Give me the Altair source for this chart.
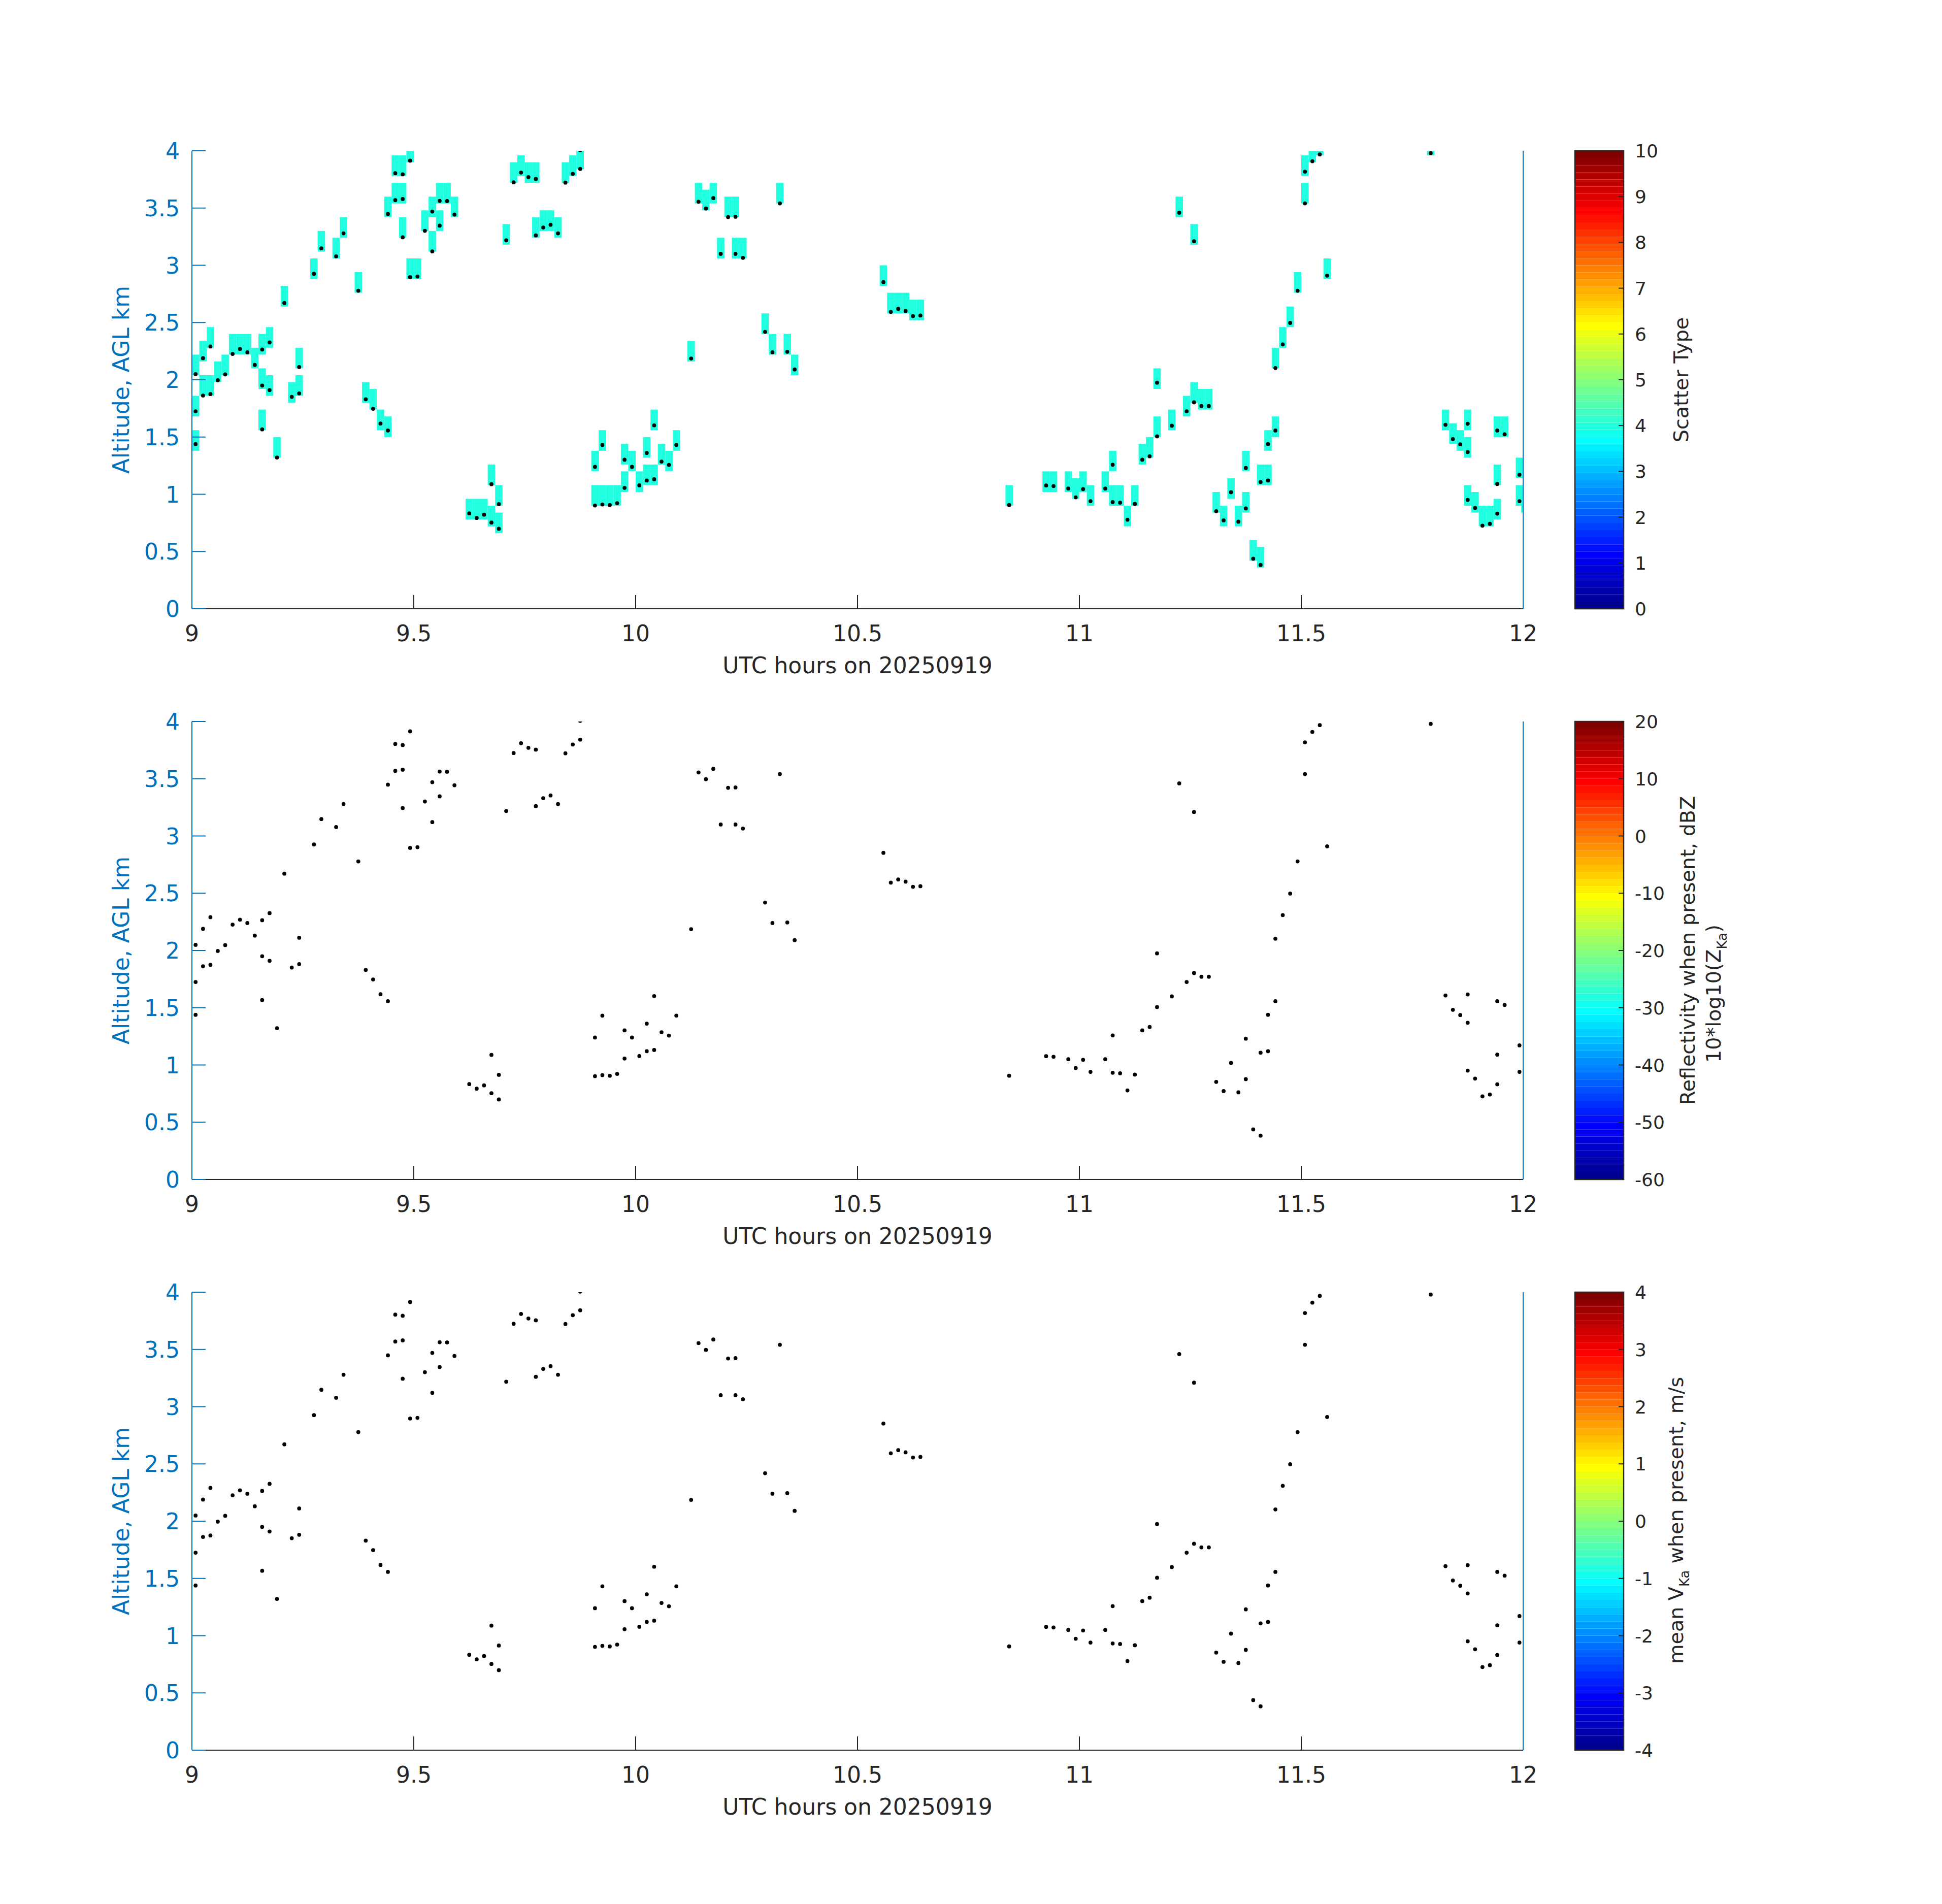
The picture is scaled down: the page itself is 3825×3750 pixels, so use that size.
import math
import altair as alt
import pandas as pd

# ---------------- data ----------------
hours = [
    9.0083, 9.0083, 9.0083, 9.0250, 9.0250, 9.0417, 9.0417, 9.0583, 9.0750, 9.0917,
    9.1083, 9.1250, 9.1417, 9.1583, 9.1583, 9.1583, 9.1750, 9.1750, 9.1917, 9.2083,
    9.2250, 9.2417, 9.2417, 9.2750, 9.2917, 9.3250, 9.3417, 9.3750, 9.3917, 9.4083,
    9.4250, 9.4417, 9.4417, 9.4583, 9.4583, 9.4750, 9.4750, 9.4750, 9.4917, 9.4917,
    9.5083, 9.5250, 9.5417, 9.5417, 9.5583, 9.5583, 9.5750, 9.5917, 9.6250, 9.6417,
    9.6583, 9.6750, 9.6750, 9.6917, 9.6917, 9.7083, 9.7250, 9.7417, 9.7583, 9.7750,
    9.7750, 9.7917, 9.8083, 9.8250, 9.8417, 9.8583, 9.8750, 9.8750, 9.9083, 9.9083,
    9.9250, 9.9250, 9.9417, 9.9583, 9.9750, 9.9750, 9.9917, 10.0083, 10.0250, 10.0250,
    10.0417, 10.0417, 10.0583, 10.0750, 10.0917, 10.1250, 10.1417, 10.1583, 10.1750, 10.1917,
    10.2083, 10.2250, 10.2250, 10.2417, 10.2917, 10.3083, 10.3250, 10.3417, 10.3583, 10.5583,
    10.5750, 10.5917, 10.6083, 10.6250, 10.6417, 10.8417, 10.9250, 10.9417, 10.9750, 10.9917,
    11.0083, 11.0250, 11.0583, 11.0750, 11.0750, 11.0917, 11.1083, 11.1250, 11.1417, 11.1583,
    11.1750, 11.1750, 11.2083, 11.2250, 11.2417, 11.2583, 11.2583, 11.2750, 11.2917, 11.3083,
    11.3250, 11.3417, 11.3583, 11.3750, 11.3750, 11.3917, 11.4083, 11.4083, 11.4250, 11.4250,
    11.4417, 11.4417, 11.4583, 11.4750, 11.4917, 11.5083, 11.5083, 11.5250, 11.5417, 11.5583,
    11.7917, 11.8250, 11.8417, 11.8583, 11.8750, 11.8750, 11.8750, 11.8917, 11.9083, 11.9250,
    11.9417, 11.9417, 11.9417, 11.9583, 11.9917, 11.9917, 12.0040,
]
altitude_km = [
    2.049, 1.725, 1.438, 2.189, 1.862, 2.291, 1.875, 1.996, 2.047, 2.226,
    2.269, 2.240, 2.130, 2.264, 1.950, 1.567, 2.326, 1.910, 1.321, 2.671,
    1.851, 1.881, 2.111, 2.926, 3.148, 3.078, 3.279, 2.778, 1.830, 1.747,
    1.618, 1.557, 3.448, 3.569, 3.804, 3.579, 3.794, 3.244, 3.914, 2.896,
    2.902, 3.301, 3.470, 3.121, 3.563, 3.346, 3.561, 3.443, 0.833, 0.793,
    0.822, 1.088, 0.753, 0.914, 0.699, 3.218, 3.724, 3.810, 3.770, 3.754,
    3.261, 3.330, 3.354, 3.279, 3.722, 3.799, 3.842, 4.005, 0.902, 1.240,
    0.911, 1.431, 0.906, 0.922, 1.056, 1.302, 1.240, 1.078, 1.120, 1.361,
    1.131, 1.602, 1.286, 1.257, 1.431, 2.186, 3.555, 3.496, 3.587, 3.100,
    3.421, 3.424, 3.100, 3.065, 2.419, 2.240, 3.541, 2.245, 2.090, 2.853,
    2.593, 2.620, 2.601, 2.556, 2.561, 0.906, 1.077, 1.072, 1.050, 0.973,
    1.045, 0.940, 1.050, 1.258, 0.932, 0.927, 0.778, 0.916, 1.302, 1.332,
    1.506, 1.975, 1.599, 3.459, 1.725, 1.803, 3.210, 1.771, 1.771, 0.852,
    0.772, 1.018, 0.761, 0.876, 1.230, 0.437, 0.383, 1.107, 1.120, 1.438,
    1.557, 2.103, 2.309, 2.497, 2.778, 3.541, 3.818, 3.909, 3.968, 2.910,
    3.979, 1.607, 1.482, 1.436, 1.369, 1.616, 0.951, 0.881, 0.726, 0.742,
    0.831, 1.090, 1.557, 1.524, 1.171, 0.940, 0.892,
]
SCATTER_TYPE = 4          # every cell in the top panel
TIME_STEP_H = 1 / 60      # one-minute columns
GATE_KM = 0.06            # range gate
CELL_GATES = 3            # each cell spans three gates

x_tick_values = [9, 9.5, 10, 10.5, 11, 11.5, 12]
x_tick_labels = ["9", "9.5", "10", "10.5", "11", "11.5", "12"]
y_tick_values = [0, 0.5, 1, 1.5, 2, 2.5, 3, 3.5, 4]
y_tick_labels = ["0", "0.5", "1", "1.5", "2", "2.5", "3", "3.5", "4"]
cb1_ticks = [0, 1, 2, 3, 4, 5, 6, 7, 8, 9, 10]
cb2_ticks = [-60, -50, -40, -30, -20, -10, 0, 10, 20]
cb3_ticks = [-4, -3, -2, -1, 0, 1, 2, 3, 4]
x_title = "UTC hours on 20250919"
y_title = "Altitude, AGL km"

# ---------------- styling ----------------
FONT = "DejaVu Sans"
BLUE = "#0072BD"
DARK = "#262626"
W, H = 2622, 902
CBW = 96
TICKFS = 44
LBL = 39.6
SUB = 26


def jet_colors(m=64):
    n = math.ceil(m / 4)
    u = [i / n for i in range(1, n + 1)] + [1.0] * (n - 1) + [i / n for i in range(n, 0, -1)]
    off = math.ceil(n / 2) - (1 if m % 4 == 1 else 0)

    def val(j):
        return u[j - 1] if 1 <= j <= len(u) else 0.0
    cols = []
    for i in range(1, m + 1):
        r, g, b = val(i - off - n), val(i - off), val(i - off + n)
        cols.append("#%02x%02x%02x" % (round(r * 255), round(g * 255), round(b * 255)))
    return cols


JET = jet_colors(64)

# DejaVu Sans advance widths (em) for layout of split labels
ADV = {' ': .318, '(': .390, ')': .390, '*': .500, ',': .318, '/': .337, '0': .636, '1': .636,
       'K': .656, 'V': .684, 'Z': .685, 'a': .613, 'e': .615, 'g': .635, 'h': .634, 'l': .278,
       'm': .974, 'n': .634, 'o': .612, 'p': .635, 'r': .411, 's': .521, 't': .392, 'w': .818}


def tw(s, size):
    return sum(ADV.get(c, 0.6) for c in s) * size


pts = pd.DataFrame({"t": hours, "z": altitude_km})
cells = pts.copy()
cells["t0"] = cells["t"] - TIME_STEP_H / 2
cells["t1"] = cells["t"] + TIME_STEP_H / 2
cells["z0"] = (cells["z"] / GATE_KM).apply(math.floor) * GATE_KM
cells["z1"] = cells["z0"] + CELL_GATES * GATE_KM
cells["stype"] = SCATTER_TYPE

xsc = alt.Scale(domain=[9, 12], nice=False, zero=False)
ysc = alt.Scale(domain=[0, 4], nice=False, zero=False)

xticks_df = pd.DataFrame({"v": x_tick_values, "s": x_tick_labels})
yticks_df = pd.DataFrame({"v": y_tick_values, "s": y_tick_labels})


def one(s):
    return pd.DataFrame({"s": [s]})


def main_panel(show_cells):
    layers = []
    if show_cells:
        layers.append(
            alt.Chart(cells).mark_rect(clip=True, strokeWidth=0).encode(
                x=alt.X("t0:Q", scale=xsc, axis=None), x2="t1:Q",
                y=alt.Y("z0:Q", scale=ysc, axis=None), y2="z1:Q",
                color=alt.Color("stype:Q", legend=None,
                                scale=alt.Scale(type="quantize", domain=[0, 10], range=JET)))
        )
    # bottom axis line, ticks (inward), labels, title
    layers += [
        alt.Chart(one("b")).mark_rule(color=DARK, strokeWidth=2).encode(
            x=alt.value(0), x2=alt.value(W), y=alt.value(H)),
        alt.Chart(xticks_df).mark_rule(color=DARK, strokeWidth=2).encode(
            x=alt.X("v:Q", scale=xsc, axis=None), y=alt.value(H), y2=alt.value(H - 27)),
        alt.Chart(xticks_df).mark_text(font=FONT, fontSize=TICKFS, color=DARK, align="center",
                                       baseline="alphabetic").encode(
            x=alt.X("v:Q", scale=xsc, axis=None), y=alt.value(H + 64), text="s:N"),
        alt.Chart(one(x_title)).mark_text(font=FONT, fontSize=44, color=DARK, align="center",
                                          baseline="alphabetic").encode(
            x=alt.value(W / 2), y=alt.value(H + 127), text="s:N"),
    ]
    # right blue line
    layers.append(
        alt.Chart(one("r")).mark_rule(color=BLUE, strokeWidth=2).encode(
            x=alt.value(W), y=alt.value(0), y2=alt.value(H))
    )
    # left axis line, ticks, labels, title
    layers += [
        alt.Chart(one("l")).mark_rule(color=BLUE, strokeWidth=2).encode(
            x=alt.value(0), y=alt.value(0), y2=alt.value(H)),
        alt.Chart(yticks_df).mark_rule(color=BLUE, strokeWidth=2).encode(
            y=alt.Y("v:Q", scale=ysc, axis=None), x=alt.value(0), x2=alt.value(27)),
        alt.Chart(yticks_df).mark_text(font=FONT, fontSize=TICKFS, color=BLUE, align="right",
                                       baseline="alphabetic", dy=16).encode(
            y=alt.Y("v:Q", scale=ysc, axis=None), x=alt.value(-24), text="s:N"),
        alt.Chart(one(y_title)).mark_text(font=FONT, fontSize=44, color=BLUE, align="center",
                                          baseline="alphabetic", angle=270).encode(
            x=alt.value(-124), y=alt.value(H / 2), text="s:N"),
    ]
    layers.append(
        alt.Chart(pts).mark_circle(size=60, color="black", opacity=1, clip=True).encode(
            x=alt.X("t:Q", scale=xsc, axis=None),
            y=alt.Y("z:Q", scale=ysc, axis=None))
    )
    return alt.layer(*layers).properties(width=W, height=H)


def text_part(s, x, y, size, align="left"):
    return alt.Chart(one(s)).mark_text(
        angle=270, align=align, baseline="alphabetic", font=FONT, fontSize=size, color=DARK
    ).encode(text="s:N", x=alt.value(x), y=alt.value(y))


def colorbar(lo, hi, ticks, label_layers):
    csc = alt.Scale(domain=[lo, hi], nice=False, zero=False)
    n = len(JET)
    band = pd.DataFrame({
        "b0": [lo + (hi - lo) * i / n for i in range(n)],
        "b1": [lo + (hi - lo) * (i + 1) / n for i in range(n)],
        "c": JET,
    })
    bands = alt.Chart(band).mark_rect(strokeWidth=0).encode(
        x=alt.value(0), x2=alt.value(CBW),
        y=alt.Y("b0:Q", scale=csc, axis=None),
        y2="b1:Q", color=alt.Color("c:N", scale=None))
    border = alt.Chart(one("k")).mark_rect(
        fillOpacity=0, stroke=DARK, strokeWidth=2.5).encode(
        x=alt.value(0), x2=alt.value(CBW), y=alt.value(0), y2=alt.value(H))
    tdf = pd.DataFrame({"v": ticks, "s": [str(t) for t in ticks]})
    tk = alt.Chart(tdf).mark_rule(color=DARK, strokeWidth=2).encode(
        y=alt.Y("v:Q", scale=csc, axis=None), x=alt.value(CBW - 10), x2=alt.value(CBW))
    tl = alt.Chart(tdf).mark_text(font=FONT, fontSize=36, color=DARK, align="left",
                                  baseline="alphabetic", dy=13).encode(
        y=alt.Y("v:Q", scale=csc, axis=None), x=alt.value(CBW + 22), text="s:N")
    return alt.layer(bands, border, tk, tl, *label_layers).properties(width=CBW, height=H)


# colour-bar labels
lab1 = [text_part("Scatter Type", 223, H / 2, LBL, align="center")]

y2 = 672
w_a = tw("10*log10(Z", LBL)
w_k = tw("Ka", SUB)
lab2 = [
    text_part("Reflectivity when present, dBZ", 236, H / 2, LBL, align="center"),
    text_part("10*log10(Z", 287, y2, LBL),
    text_part("Ka", 299, y2 - w_a, SUB),
    text_part(")", 287, y2 - w_a - w_k, LBL),
]

y3 = 732
w_m = tw("mean V", LBL)
lab3 = [
    text_part("mean V", 213, y3, LBL),
    text_part("Ka", 225, y3 - w_m, SUB),
    text_part("when present, m/s", 213, y3 - w_m - w_k - tw(" ", LBL), LBL),
]

chart = alt.concat(
    main_panel(True), colorbar(0, 10, cb1_ticks, lab1),
    main_panel(False), colorbar(-60, 20, cb2_ticks, lab2),
    main_panel(False), colorbar(-4, 4, cb3_ticks, lab3),
    columns=2, spacing={"row": 222, "column": 102}, bounds="flush",
).properties(
    padding={"left": 211, "top": 270, "right": 20, "bottom": 20}
).configure(font=FONT).configure_view(stroke=None)

chart.save("out.html", embed_options={"renderer": "svg", "actions": False})
